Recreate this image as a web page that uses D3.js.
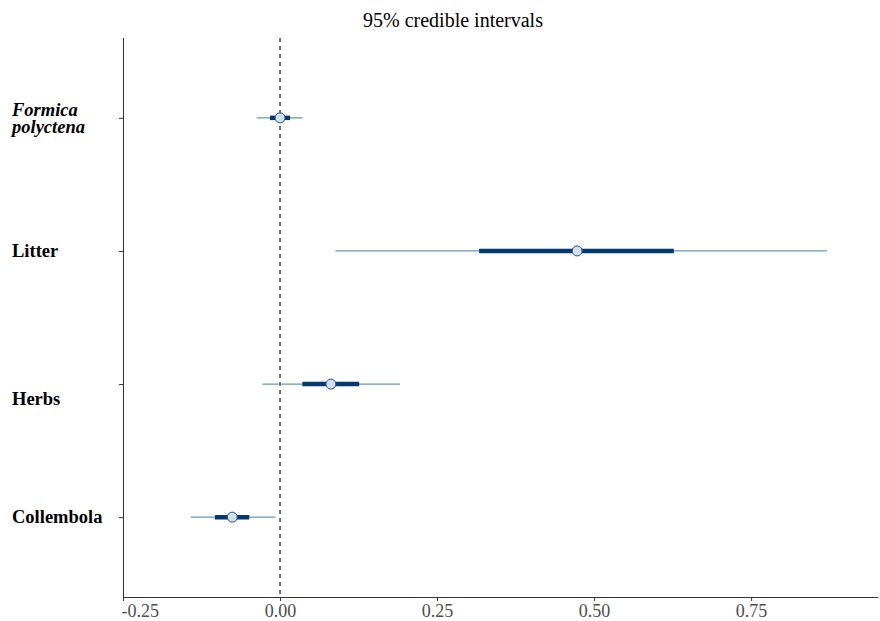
<!DOCTYPE html>
<html><head><meta charset="utf-8">
<script src="https://cdn.jsdelivr.net/npm/d3@7"></script>
<style>body{margin:0;background:#fff}svg{display:block}</style>
</head><body>
<script>
const categories = ["Formica polyctena", "Litter", "Herbs", "Collembola"];
const outerLow  = [-0.037, 0.088, -0.028, -0.142];
const innerLow  = [-0.016, 0.317, 0.0355, -0.1035];
const medians   = [0.000, 0.473, 0.081, -0.076];
const innerHigh = [0.016, 0.627, 0.126, -0.049];
const outerHigh = [0.036, 0.871, 0.191, -0.007];
const xTicks = [-0.25, 0.00, 0.25, 0.50, 0.75];
const title = "95% credible intervals";

(function () {
const W = 880, H = 621;
const FONT = '"Liberation Serif"';
const svg = d3.select("body").append("svg").attr("width", W).attr("height", H);
const pLeft = 123, pRight = 878, pTop = 38, pBottom = 597;

const x = d3.scaleLinear().domain([-0.25, 0.952]).range([pLeft, pRight]);
const y = d3.scalePoint().domain(categories).range([pTop, pBottom]).padding(0.6);

// title
svg.append("text").attr("x", 453).attr("y", 27).attr("text-anchor", "middle")
  .style("font-family", FONT).attr("font-size", 20).attr("fill", "#000").text(title);

// x axis
const xAxis = svg.append("g").attr("transform", `translate(0,${pBottom})`)
  .call(d3.axisBottom(x).tickValues(xTicks).tickFormat(d3.format(".2f")).tickSize(4).tickSizeOuter(0));
xAxis.select(".domain").attr("stroke", "#333").attr("d", `M${pLeft},0.5H${pRight}`);
xAxis.selectAll(".tick line").attr("stroke", "#333");
xAxis.selectAll(".tick text").style("font-family", FONT).attr("font-size", 18).attr("fill", "#4d4d4d")
  .attr("y", 7).attr("dy", "0.71em")
  .text(d => d3.format(".2f")(d).replace("−", "-"))
  .attr("text-anchor", d => d === -0.25 ? "start" : "middle")
  .attr("dx", d => d === -0.25 ? -2 : 0);

// y axis
const yAxis = svg.append("g").attr("transform", `translate(${pLeft},0)`)
  .call(d3.axisLeft(y).tickSize(4).tickSizeOuter(0).tickFormat(""));
yAxis.select(".domain").attr("stroke", "#333").attr("d", `M0.5,${pTop}V${pBottom}`);
yAxis.selectAll(".tick line").attr("stroke", "#333");

// y labels
const labelOffset = {"Formica polyctena": 0, "Litter": 0, "Herbs": 15, "Collembola": 0};
categories.forEach(c => {
  const yy = y(c) + labelOffset[c];
  const t = svg.append("text").attr("x", 12).style("font-family", FONT).attr("font-size", 18.5)
    .attr("font-weight", "bold").attr("fill", "#000");
  if (c === "Formica polyctena") {
    t.attr("font-style", "italic");
    t.append("tspan").attr("x", 12).attr("y", yy - 2).text("Formica");
    t.append("tspan").attr("x", 12).attr("y", yy + 15).text("polyctena");
  } else {
    t.attr("y", yy + 6).text(c);
  }
});

// zero line
svg.append("line").attr("x1", x(0)).attr("x2", x(0)).attr("y1", pTop).attr("y2", pBottom)
  .attr("stroke", "#000").attr("stroke-width", 1.1).attr("stroke-dasharray", "4,4");

const g = svg.append("g");
categories.forEach((c, i) => {
  const yy = y(c);
  g.append("line").attr("x1", x(outerLow[i])).attr("x2", x(outerHigh[i])).attr("y1", yy).attr("y2", yy)
    .attr("stroke", "#6497b1").attr("stroke-width", 1.3);
  g.append("line").attr("x1", x(innerLow[i])).attr("x2", x(innerHigh[i])).attr("y1", yy).attr("y2", yy)
    .attr("stroke", "#03396c").attr("stroke-width", 4.5);
  g.append("circle").attr("cx", x(medians[i])).attr("cy", yy).attr("r", 5)
    .attr("fill", "#d1e1ec").attr("stroke", "#2a4e7c").attr("stroke-width", 1);
});
})();
</script>
</body></html>
